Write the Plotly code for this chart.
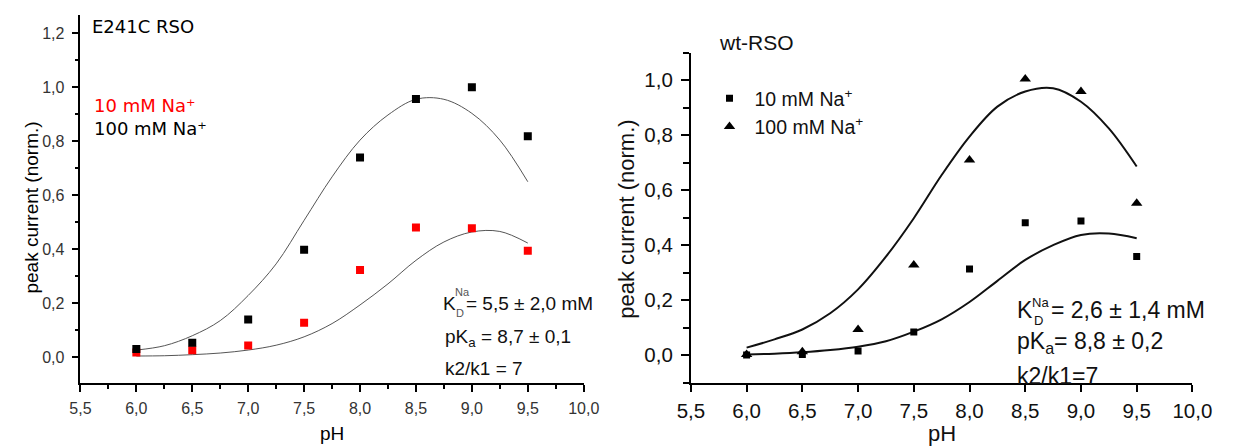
import plotly.graph_objects as go

W, H = 1238, 448

# ---------------- data ----------------
ph = [6.0, 6.5, 7.0, 7.5, 8.0, 8.5, 9.0, 9.5]
e241c_10mM = [0.018, 0.026, 0.044, 0.128, 0.323, 0.481, 0.478, 0.395]
e241c_100mM = [0.031, 0.054, 0.140, 0.398, 0.740, 0.956, 1.000, 0.818]
wt_10mM = [0.000, 0.002, 0.015, 0.084, 0.313, 0.481, 0.488, 0.359]
wt_100mM = [0.002, 0.012, 0.093, 0.328, 0.710, 1.005, 0.959, 0.552]

fit_ph = [6.0, 6.25, 6.5, 6.75, 7.0, 7.25, 7.5, 7.75, 8.0, 8.25, 8.5, 8.75, 9.0, 9.25, 9.5]
e241c_fit_100 = [0.027, 0.043, 0.080, 0.136, 0.229, 0.346, 0.507, 0.668, 0.804, 0.897, 0.955, 0.955, 0.903, 0.804, 0.650]
e241c_fit_10 = [0.005, 0.006, 0.010, 0.016, 0.027, 0.045, 0.076, 0.125, 0.194, 0.272, 0.359, 0.427, 0.464, 0.466, 0.423]
wt_fit_100 = [0.027, 0.057, 0.093, 0.152, 0.239, 0.358, 0.498, 0.655, 0.795, 0.904, 0.959, 0.971, 0.922, 0.825, 0.686]
wt_fit_10 = [0.002, 0.005, 0.010, 0.018, 0.030, 0.050, 0.085, 0.130, 0.193, 0.270, 0.346, 0.400, 0.437, 0.442, 0.425]

x_tickvals = [5.5, 6.0, 6.5, 7.0, 7.5, 8.0, 8.5, 9.0, 9.5, 10.0]
x_ticktext = ["5,5", "6,0", "6,5", "7,0", "7,5", "8,0", "8,5", "9,0", "9,5", "10,0"]
yL_tickvals = [0.0, 0.2, 0.4, 0.6, 0.8, 1.0, 1.2]
yL_ticktext = ["0,0", "0,2", "0,4", "0,6", "0,8", "1,0", "1,2"]
yR_tickvals = [0.0, 0.2, 0.4, 0.6, 0.8, 1.0]
yR_ticktext = ["0,0", "0,2", "0,4", "0,6", "0,8", "1,0"]


def px(x):
    return x / W


def py(y):
    return 1 - y / H


ARIAL = "Liberation Sans, Arial, sans-serif"
DEJAVU = "DejaVu Sans, sans-serif"

fig = go.Figure()

# ---- left panel (E241C) ----
fig.add_trace(go.Scatter(x=fit_ph, y=e241c_fit_100, mode="lines", line=dict(color="#555555", width=1, shape="spline"),
                         xaxis="x", yaxis="y", showlegend=False, hoverinfo="skip"))
fig.add_trace(go.Scatter(x=fit_ph, y=e241c_fit_10, mode="lines", line=dict(color="#555555", width=1, shape="spline"),
                         xaxis="x", yaxis="y", showlegend=False, hoverinfo="skip"))
fig.add_trace(go.Scatter(x=ph, y=e241c_10mM, mode="markers", marker=dict(symbol="square", size=8, color="#ff0000"),
                         xaxis="x", yaxis="y", showlegend=False))
fig.add_trace(go.Scatter(x=ph, y=e241c_100mM, mode="markers", marker=dict(symbol="square", size=8, color="#000000"),
                         xaxis="x", yaxis="y", showlegend=False))

# ---- right panel (wt) ----
fig.add_trace(go.Scatter(x=fit_ph, y=wt_fit_100, mode="lines", line=dict(color="#111111", width=2, shape="spline"),
                         xaxis="x2", yaxis="y2", showlegend=False, hoverinfo="skip"))
fig.add_trace(go.Scatter(x=fit_ph, y=wt_fit_10, mode="lines", line=dict(color="#111111", width=2, shape="spline"),
                         xaxis="x2", yaxis="y2", showlegend=False, hoverinfo="skip"))
fig.add_trace(go.Scatter(x=ph, y=wt_10mM, mode="markers", name="10 mM Na<sup>+</sup>",
                         marker=dict(symbol="square", size=7, color="#000000"),
                         xaxis="x2", yaxis="y2", showlegend=True))
fig.add_trace(go.Scatter(x=ph, y=wt_100mM, mode="markers", name="100 mM Na<sup>+</sup>",
                         marker=dict(symbol="triangle-up", size=10, color="#000000"),
                         xaxis="x2", yaxis="y2", showlegend=True))

axis_common = dict(showgrid=False, zeroline=False, showline=True, linecolor="black", ticks="outside",
                   tickcolor="black", tickmode="array")

fig.update_layout(
    width=W, height=H, margin=dict(l=0, r=0, t=0, b=0),
    paper_bgcolor="white", plot_bgcolor="white",
    xaxis=dict(**axis_common, domain=[px(68.3), px(585.8)], range=[5.5, 10.0], anchor="y",
               linewidth=1.5, tickwidth=1.5, ticklen=7, tickvals=x_tickvals, ticktext=x_ticktext,
               tickfont=dict(family=ARIAL, size=16, color="#333333"), ticklabelstandoff=3,
               minor=dict(tickmode="linear", tick0=5.5, dtick=0.25, ticks="outside", ticklen=4,
                          tickwidth=1.5, tickcolor="black")),
    yaxis=dict(**axis_common, domain=[py(383.3), py(15)], range=[-0.096, 1.267], anchor="x",
               linewidth=1.5, tickwidth=1.5, ticklen=7, tickvals=yL_tickvals, ticktext=yL_ticktext,
               tickfont=dict(family=ARIAL, size=16, color="#333333"), ticklabelstandoff=4,
               minor=dict(tickmode="linear", tick0=0, dtick=0.1, ticks="outside", ticklen=4,
                          tickwidth=1.5, tickcolor="black")),
    xaxis2=dict(**axis_common, domain=[px(696), px(1211.7)], range=[5.5, 10.0], anchor="y2",
                linewidth=2, tickwidth=2, ticklen=7, tickvals=x_tickvals, ticktext=x_ticktext,
                tickfont=dict(family=ARIAL, size=20.5, color="#111111"), ticklabelstandoff=2),
    yaxis2=dict(**axis_common, domain=[py(382.5), py(52.8)], range=[-0.1, 1.1], anchor="x2",
                linewidth=2, tickwidth=2, ticklen=8, tickvals=yR_tickvals, ticktext=yR_ticktext,
                tickfont=dict(family=ARIAL, size=20.5, color="#111111"), ticklabelstandoff=4,
                minor=dict(tickmode="linear", tick0=0, dtick=0.1, ticks="outside", ticklen=6,
                           tickwidth=2, tickcolor="black")),
    legend=dict(x=px(710), y=py(79), xanchor="left", yanchor="top", bgcolor="rgba(0,0,0,0)",
                font=dict(family=ARIAL, size=19.5, color="#111111"), tracegroupgap=0, itemwidth=40),
)


def ann(text, x, y, size, family=ARIAL, color="#111111", xanchor="left", angle=0):
    fig.add_annotation(text=text, x=px(x), y=py(y), xref="paper", yref="paper", showarrow=False,
                       xanchor=xanchor, yanchor="middle", textangle=angle,
                       font=dict(family=family, size=size, color=color))


# left panel texts
ann("E241C RSO", 78, 26, 18, DEJAVU, "#000000")
ann("10 mM Na⁺", 80, 105, 18, DEJAVU, "#ff0000")
ann("100 mM Na⁺", 80, 128, 18, DEJAVU, "#000000")
ann("K", 439, 303, 19)
ann("Na", 451, 292, 11, color="#555555")
ann("D", 452, 313, 11, color="#555555")
ann("= 5,5 ± 2,0 mM", 463, 303, 19)
ann("pK<sub>a</sub> = 8,7 ± 0,1", 441, 338, 19)
ann("k2/k1 = 7", 441, 368, 19)
ann("peak current (norm.)", 17, 208, 19, xanchor="center", angle=-90, color="#000000")
ann("pH", 327, 433, 19, xanchor="center", color="#000000")

# right panel texts
ann("wt-RSO", 723, 42, 21)
ann("K", 1029, 310, 23)
ann("Na", 1045, 302, 13)
ann("D", 1047, 320, 13)
ann("= 2,6 ± 1,4 mM", 1064, 310, 23)
ann("pK<sub>a</sub>= 8,8 ± 0,2", 1029, 342, 23)
ann("k2/k1=7", 1029, 376, 23)
ann("peak current (norm.)", 629, 219, 22, xanchor="center", angle=-90)
ann("pH", 954, 433, 22, xanchor="center")

fig.write_html("out.html")
